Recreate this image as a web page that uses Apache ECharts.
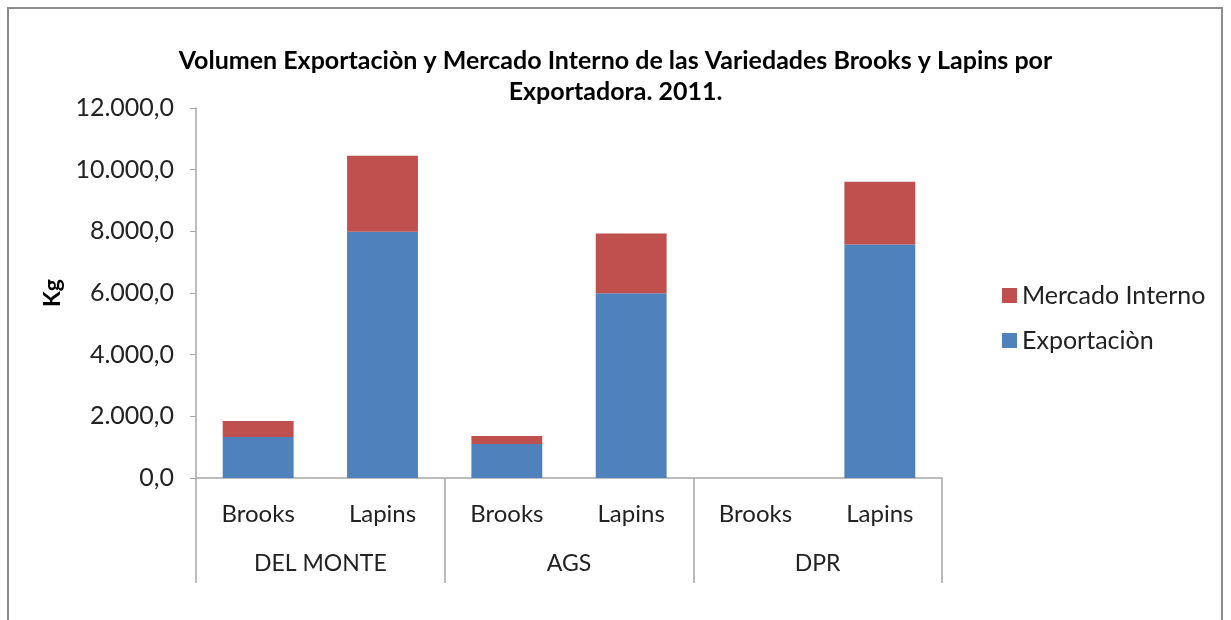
<!DOCTYPE html>
<html>
<head>
<meta charset="utf-8">
<script src="https://cdn.jsdelivr.net/npm/echarts@6/dist/echarts.min.js"></script>
<style>
  html, body { margin: 0; padding: 0; background: #fff; }
  #container { width: 1231px; height: 620px; }
</style>
</head>
<body>
<div id="container"></div>
<script>
// Datos
var variedades = ['Brooks', 'Lapins', 'Brooks', 'Lapins', 'Brooks', 'Lapins'];
var exportadoras = ['DEL MONTE', 'AGS', 'DPR'];
var exportacion = [1330, 7990, 1100, 5990, 0, 7570];
var mercadoInterno = [515, 2460, 260, 1940, 0, 2040];

var fuente = 'Lato, "Open Sans", sans-serif';

function formatoKg(v) {
    var s = Math.round(v).toString().replace(/\B(?=(\d{3})+(?!\d))/g, '.');
    return s + ',0';
}

document.addEventListener('DOMContentLoaded', function () {
    var dom = document.getElementById('container');
    var myChart = echarts.init(dom);

    var option = {
        animation: false,
        backgroundColor: '#fff',
        textStyle: { fontFamily: fuente },
        graphic: [
            {
                type: 'rect',
                shape: { x: 8, y: 8, width: 1214, height: 640 },
                style: { fill: 'none', stroke: '#8c8c8c', lineWidth: 2 }
            }
        ],
        title: {
            text: 'Volumen Exportaciòn y Mercado Interno de las Variedades Brooks y Lapins por\nExportadora. 2011.',
            left: 'center',
            top: 40,
            textStyle: {
                fontFamily: fuente,
                fontSize: 25,
                fontWeight: 'bold',
                color: '#000',
                lineHeight: 31
            }
        },
        legend: {
            orient: 'vertical',
            left: 997,
            top: 278,
            itemWidth: 15,
            itemHeight: 15,
            itemGap: 20,
            icon: 'rect',
            data: ['Mercado Interno', 'Exportaciòn'],
            textStyle: { fontFamily: fuente, fontSize: 25, color: '#222' }
        },
        grid: {
            left: 196,
            right: 289,
            top: 108,
            bottom: 142
        },
        xAxis: [
            {
                type: 'category',
                data: variedades,
                position: 'bottom',
                axisLine: { show: true, lineStyle: { color: '#a6a6a6', width: 1.5 } },
                axisTick: { show: false },
                axisLabel: { margin: 24, fontSize: 24, color: '#222', fontFamily: fuente }
            },
            {
                type: 'category',
                data: exportadoras,
                position: 'bottom',
                axisLine: { show: false },
                axisTick: {
                    show: true,
                    interval: 0,
                    length: 105,
                    lineStyle: { color: '#a6a6a6', width: 1.5 }
                },
                axisLabel: { margin: 74, fontSize: 23, color: '#222', fontFamily: fuente }
            }
        ],
        yAxis: {
            type: 'value',
            min: 0,
            max: 12000,
            interval: 2000,
            name: 'Kg',
            nameLocation: 'middle',
            nameGap: 128,
            nameRotate: 90,
            nameTextStyle: { fontFamily: fuente, fontSize: 23, fontWeight: 'bold', color: '#000' },
            axisLine: { show: true, lineStyle: { color: '#a6a6a6', width: 1.5 } },
            axisTick: { show: true, length: 6, lineStyle: { color: '#a6a6a6' } },
            splitLine: { show: false },
            axisLabel: {
                margin: 22,
                fontSize: 25,
                color: '#222',
                fontFamily: fuente,
                formatter: formatoKg
            }
        },
        series: [
            {
                name: 'Exportaciòn',
                type: 'bar',
                stack: 'total',
                barWidth: '57%',
                data: exportacion,
                itemStyle: { color: '#4F81BD' }
            },
            {
                name: 'Mercado Interno',
                type: 'bar',
                stack: 'total',
                barWidth: '57%',
                data: mercadoInterno,
                itemStyle: { color: '#C0504D' }
            }
        ]
    };

    myChart.setOption(option);
    window.addEventListener('resize', myChart.resize);
});
</script>
</body>
</html>
